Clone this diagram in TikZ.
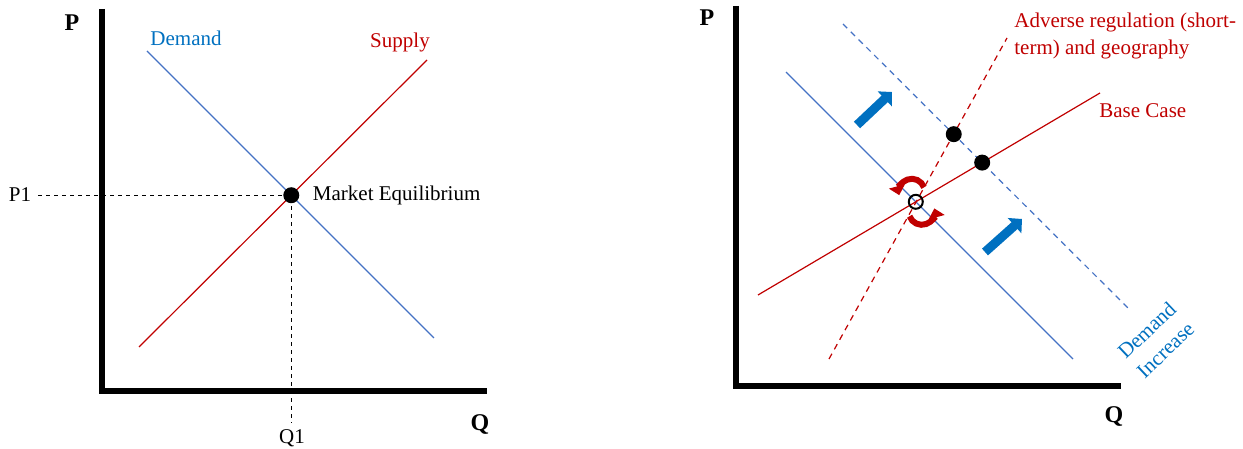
\documentclass[tikz,border=0pt]{standalone}
\usepackage{fontspec}
\setmainfont{Liberation Serif}
\usetikzlibrary{arrows.meta, positioning}
\definecolor{dline}{HTML}{4472C4}
\definecolor{dtext}{HTML}{0070C0}
\definecolor{sred}{HTML}{C00000}

\begin{document}
\begin{tikzpicture}[x=0.5pt, y=0.5pt,
      font=\fontsize{10.5}{13.5}\selectfont,
      axis/.style={line width=3pt, line join=miter},
      axlab/.style={font=\fontsize{12}{14}\selectfont\bfseries},
      dem/.style={dline, line width=0.6pt},
      sup/.style={sred, line width=0.6pt},
      shifted/.style={dash pattern=on 3pt off 2.5pt},
      guide/.style={dash pattern=on 2pt off 2pt, line width=0.6pt},
      dot/.style={circle, fill=black, inner sep=0pt, minimum size=8pt},
      ring/.style={circle, draw=black, line width=1pt, inner sep=0pt, minimum size=7pt},
      push/.style={-{Triangle[length=5pt, width=10pt]}, line width=4.5pt, dtext},
      spin/.style={-{Triangle[length=4.5pt, width=8pt]}, line width=3pt, sred}]
  \useasboundingbox (0,0) rectangle (1243,449);

  % left: one market
  \draw[axis] (102,440) -- (102,58) -- (487,58);
  \node[axlab] (lp) at (72,426) {P};
  \node[axlab] (lq) at (480,24) {Q};
  \coordinate (d1) at (147,398); \coordinate (d2) at (434,111);
  \coordinate (s1) at (139,102); \coordinate (s2) at (427,389);
  \draw[dem] (d1) -- (d2);
  \draw[sup] (s1) -- (s2);
  \coordinate (eq) at (intersection of d1--d2 and s1--s2);
  \node[text=dtext] (dlab) at (186,411) {Demand};
  \node[text=sred] (slab) at (400,407) {Supply};
  \node (p1) at (20,254) {P1};
  \node (q1) at (292,11) {Q1};
  \draw[guide] (p1.east |- eq) -- (eq) -- (eq |- q1.north);
  \node[dot] (eqdot) at (eq) {};
  \node[right=7.3pt of eq] (melab) {Market Equilibrium};

  % right: shifted curves
  \draw[axis] (735.5,443) -- (735.5,63) -- (1121,63);
  \node[axlab] (rp) at (707,431) {P};
  \node[axlab] (rq) at (1114,32) {Q};
  \coordinate (a1) at (786,377); \coordinate (a2) at (1073,90);   % demand
  \coordinate (b1) at (843,425); \coordinate (b2) at (1130,139);  % demand increase
  \coordinate (c1) at (758,154); \coordinate (c2) at (1100,356);  % base case
  \coordinate (e1) at (829,90);  \coordinate (e2) at (1007,411);  % adverse
  \draw[dem] (a1) -- (a2);
  \draw[dem, shifted] (b1) -- (b2);
  \draw[sup] (c1) -- (c2);
  \draw[sup, shifted] (e1) -- (e2);
  \node[text=sred, anchor=west, align=left, inner sep=0pt] (adlab) at (1014,413)
    {Adverse regulation (short-\\term) and geography};
  \node[text=sred, anchor=west, inner sep=0pt] (bclab) at (1099,338) {Base Case};
  \node[text=dtext, align=center, rotate=43.5] (dilab) at (1156,109) {Demand\\Increase};

  \coordinate (u1) at (857,324); \coordinate (u2) at (892,357);
  \coordinate (v1) at (985,197); \coordinate (v2) at (1022,230);
  \draw[push] (u1) -- (u2);
  \draw[push] (v1) -- (v2);

  \coordinate (hi) at (intersection of b1--b2 and e1--e2);
  \coordinate (bc) at (intersection of b1--b2 and c1--c2);
  \coordinate (base) at (intersection of a1--a2 and c1--c2);
  \node[dot] (hidot) at (hi) {};
  \node[dot] (bcdot) at (bc) {};
  \node[ring] (old) at (base) {};
  \draw[spin] ([shift={(-4,10)}]old.center) ++(20:13) arc[start angle=20, end angle=195, radius=13];
  \draw[spin] ([shift={(6,-10)}]old.center) ++(200:13) arc[start angle=200, end angle=375, radius=13];
\end{tikzpicture}
\end{document}
